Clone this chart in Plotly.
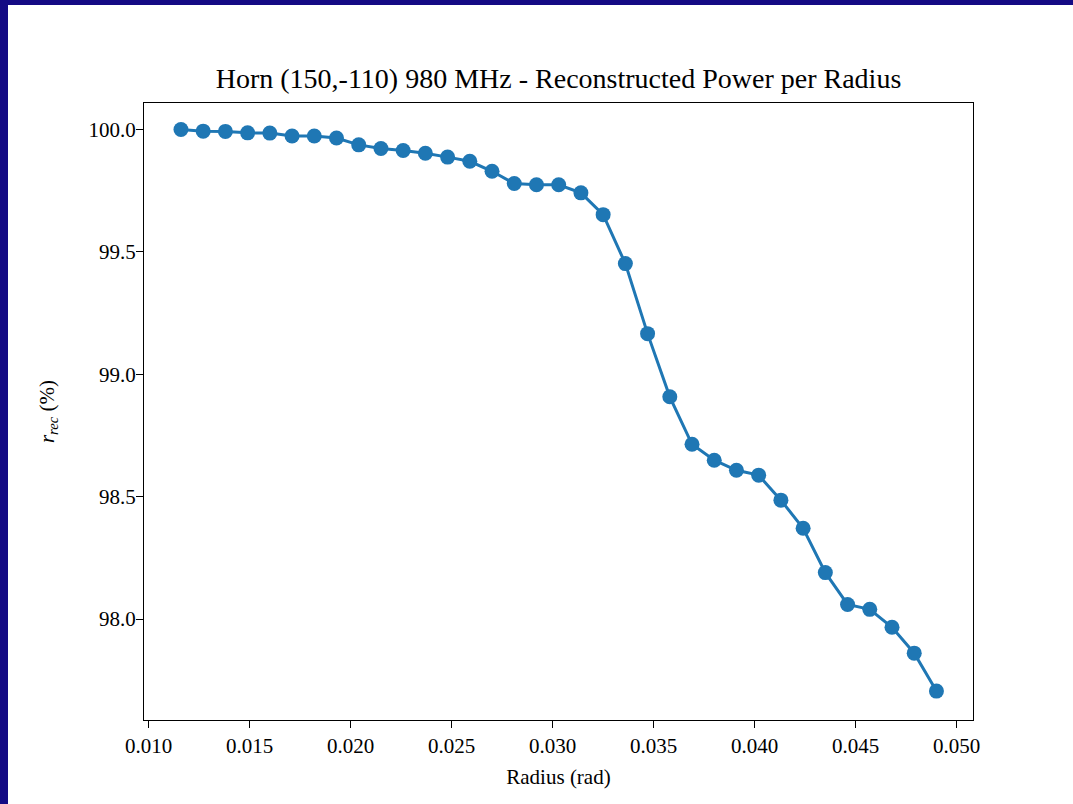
import plotly.graph_objects as go

radius = [0.0116, 0.0127, 0.0138, 0.0149, 0.0160, 0.0171, 0.0182, 0.0193, 0.0204, 0.0215,
          0.0226, 0.0237, 0.0248, 0.0259, 0.0270, 0.0281, 0.0292, 0.0303, 0.0314, 0.0325,
          0.0336, 0.0347, 0.0358, 0.0369, 0.0380, 0.0391, 0.0402, 0.0413, 0.0424, 0.0435,
          0.0446, 0.0457, 0.0468, 0.0479, 0.0490]
r_rec = [100.000, 99.993, 99.992, 99.986, 99.985, 99.973, 99.973, 99.965, 99.937, 99.922,
         99.914, 99.903, 99.887, 99.870, 99.829, 99.779, 99.774, 99.774, 99.741, 99.652,
         99.452, 99.166, 98.908, 98.714, 98.649, 98.608, 98.588, 98.486, 98.371, 98.190,
         98.060, 98.040, 97.967, 97.861, 97.706]

x_ticks = [0.010, 0.015, 0.020, 0.025, 0.030, 0.035, 0.040, 0.045, 0.050]
y_ticks = [98.0, 98.5, 99.0, 99.5, 100.0]

W, H = 1073, 804
L, R, T, B = 144, 973, 103, 720
FONT = "Liberation Serif, Times New Roman, serif"
NAVY = "#140a84"

fig = go.Figure()
fig.add_trace(go.Scatter(
    x=radius, y=r_rec, mode="lines+markers",
    line=dict(color="#1f77b4", width=3),
    marker=dict(color="#1f77b4", size=15),
    showlegend=False, hoverinfo="skip"))

pw, ph = R - L, B - T
def px(x):
    return (x - L) / pw
def py(y):
    return (B - y) / ph

shapes = [
    dict(type="rect", xref="paper", yref="paper", x0=px(-5), x1=px(8), y0=py(H + 10), y1=py(-10),
         fillcolor=NAVY, line=dict(width=0), layer="above"),
    dict(type="rect", xref="paper", yref="paper", x0=px(-5), x1=px(W + 10), y0=py(5), y1=py(-10),
         fillcolor=NAVY, line=dict(width=0), layer="above"),
]

axis_common = dict(showgrid=False, zeroline=False, showline=True, linecolor="black", linewidth=1.3,
                   mirror=True, ticks="outside", ticklen=7, tickwidth=1.3, tickcolor="black",
                   tickfont=dict(family=FONT, size=21, color="black"))

fig.update_layout(
    width=W, height=H,
    margin=dict(l=L, r=W - R, t=T, b=H - B, pad=0),
    paper_bgcolor="white", plot_bgcolor="white",
    shapes=shapes,
    title=dict(text="Horn (150,-110) 980 MHz - Reconstructed Power per Radius",
               font=dict(family=FONT, size=28, color="black"),
               x=0.5, xref="paper", xanchor="center",
               y=1 - 78 / H, yref="container", yanchor="middle"),
    xaxis=dict(range=[0.00977, 0.05081], tickvals=x_ticks,
               ticktext=[f"{v:.3f}" for v in x_ticks],
               title=dict(text="Radius (rad)", font=dict(family=FONT, size=21, color="black"), standoff=11),
               **axis_common),
    yaxis=dict(range=[97.588, 100.108], tickvals=y_ticks,
               ticktext=[f"{v:.1f}" for v in y_ticks],
               title=dict(text="<i>r</i><sub><i>rec</i></sub> (%)", font=dict(family=FONT, size=21, color="black"), standoff=28),
               ticklabelstandoff=-4,
               **axis_common),
)

fig.write_html("out.html")
